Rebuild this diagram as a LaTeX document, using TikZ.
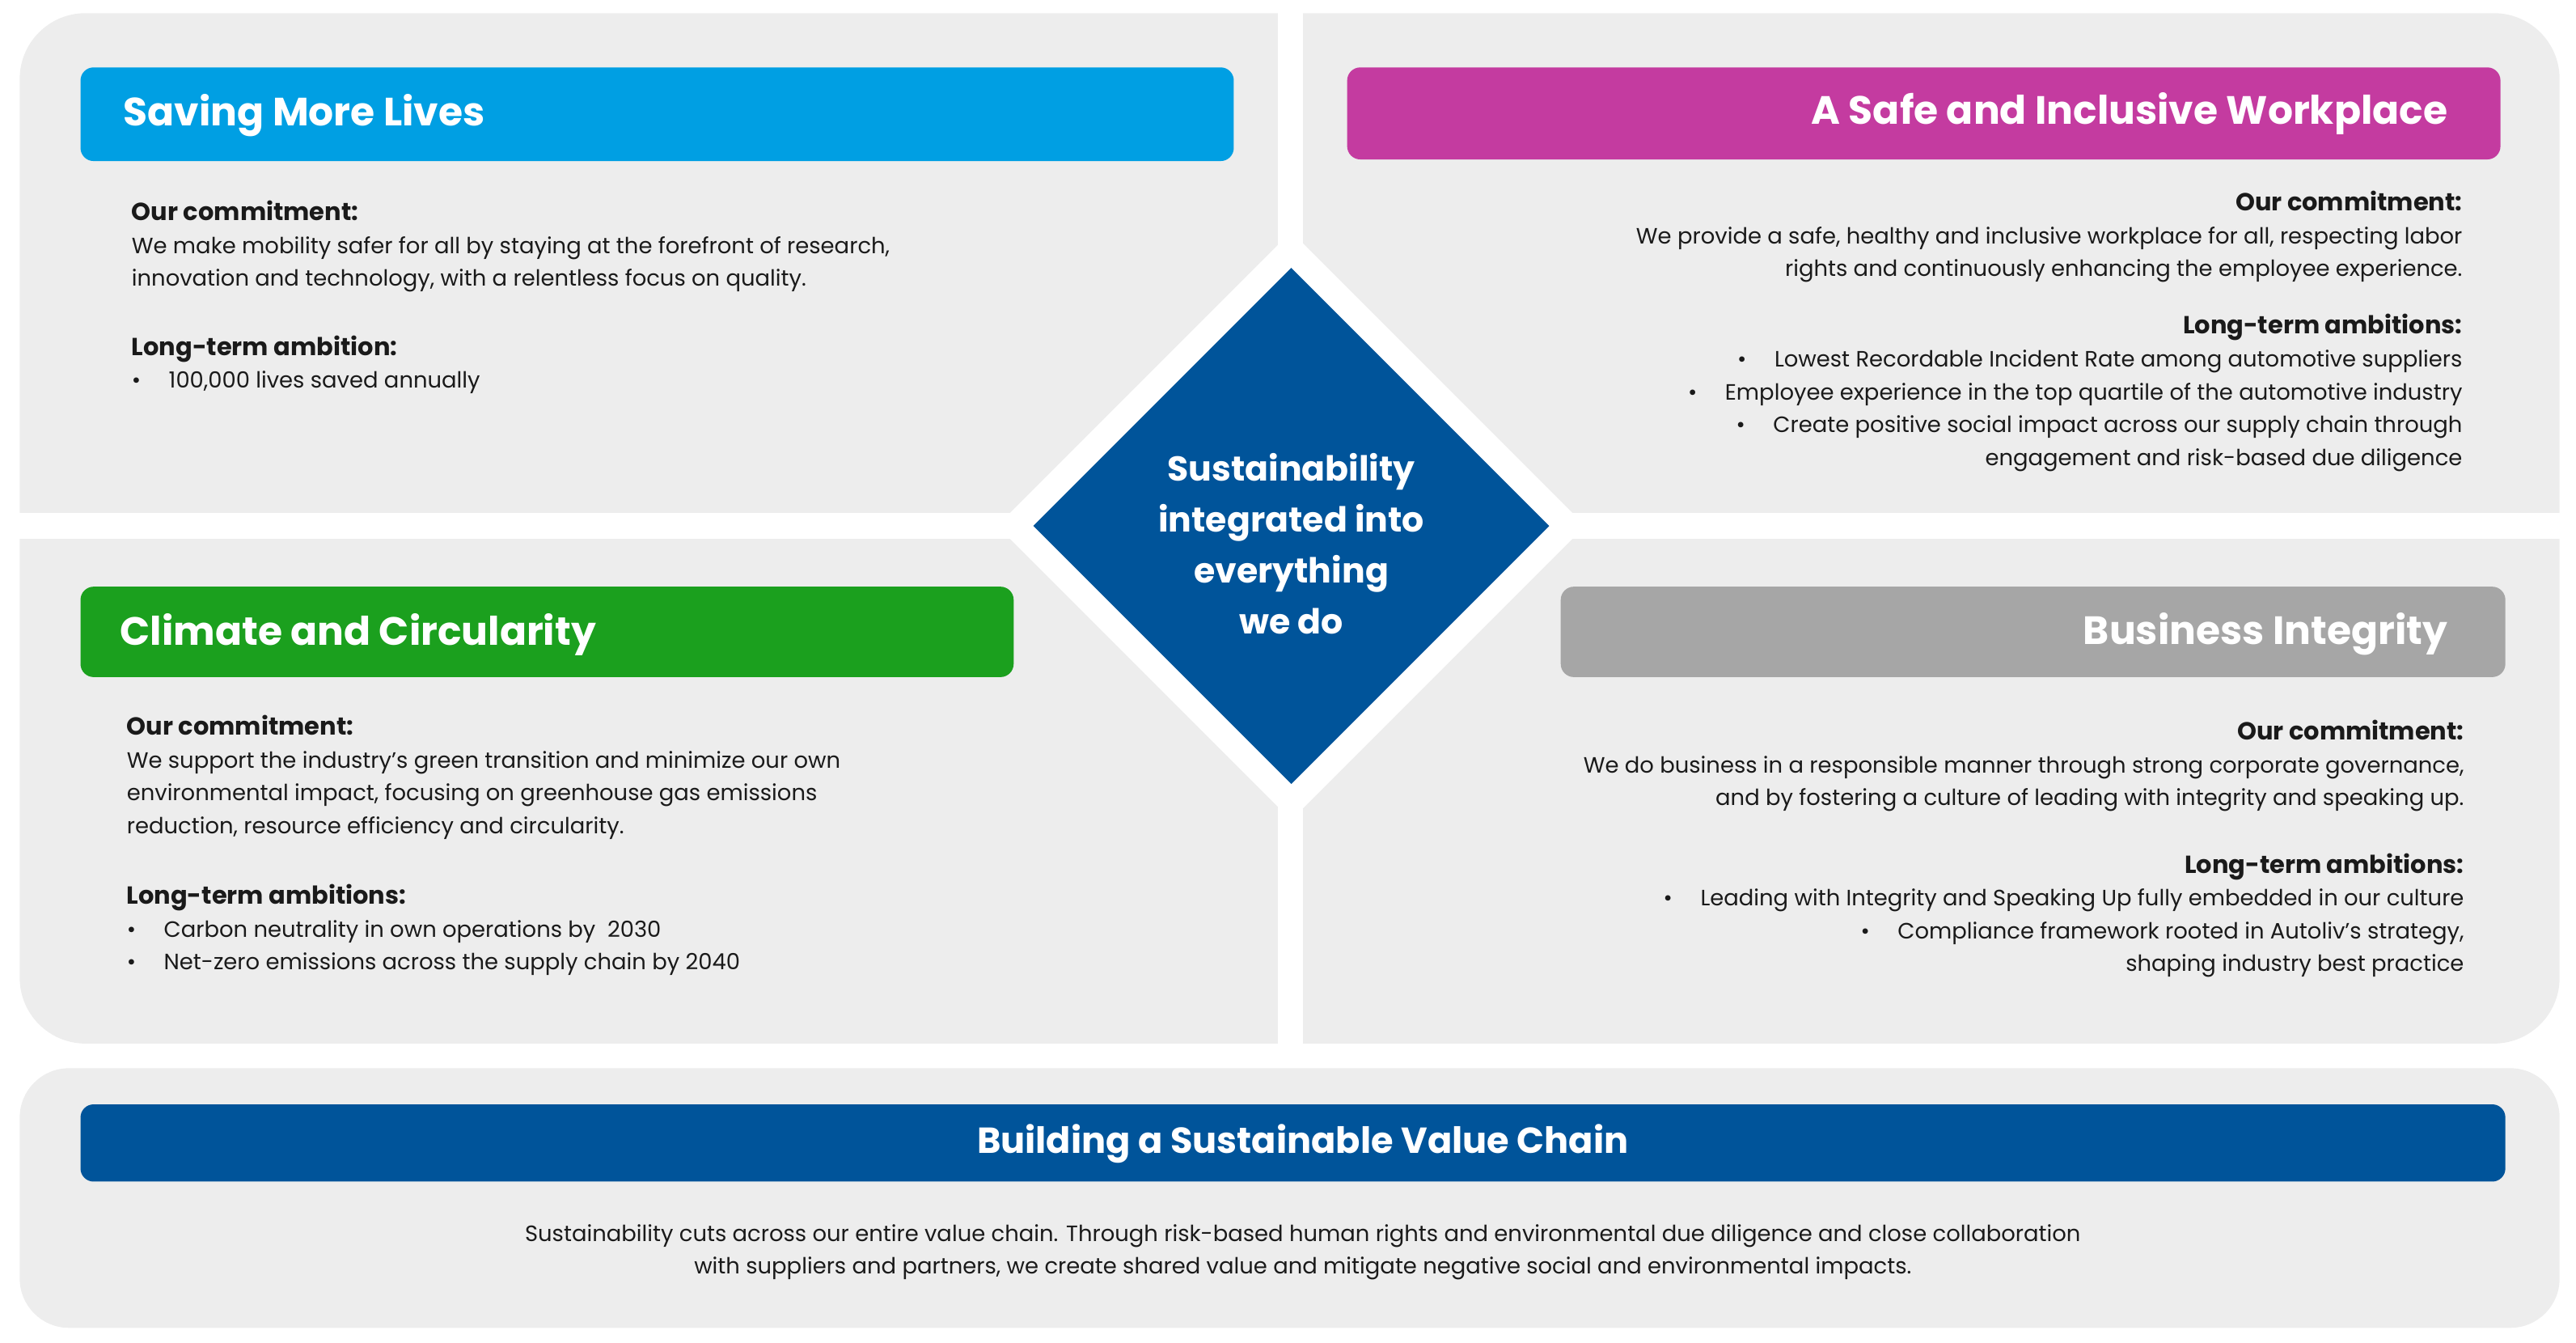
\documentclass[tikz,border=0pt]{standalone}
\usepackage{fontspec}
\setmainfont{Poppins}
\usetikzlibrary{shapes.geometric}
\definecolor{panelgray}{HTML}{EDEDED}
\definecolor{skyblue}{HTML}{009FE3}
\definecolor{magentapink}{HTML}{C43BA0}
\definecolor{leafgreen}{HTML}{1BA01E}
\definecolor{midgray}{HTML}{A6A6A6}
\definecolor{navyblue}{HTML}{00549A}
\definecolor{bodytext}{HTML}{1A1A1A}
\newcommand{\blockhead}[1]{{\fontsize{15}{20}\selectfont\bfseries #1}}

\begin{document}
\begin{tikzpicture}[x=1pt,y=-1pt,
  header/.style={draw=none,rounded corners=8pt},
  title/.style={font=\fontsize{24}{28}\selectfont\bfseries,text=white,inner sep=0pt},
  body/.style={font=\fontsize{13.5}{20}\selectfont,text=bodytext,inner sep=0pt}]

  \useasboundingbox (0,0) rectangle (1568,817);

  % panels
  \fill[panelgray,rounded corners=40pt] (12,8) rectangle (1558,635);
  \fill[white] (778,0) rectangle (793,640);
  \fill[white] (0,312) rectangle (1568,328);
  \fill[panelgray,rounded corners=30pt] (12,650) rectangle (1558,808);

  % centre diamond
  \fill[white] (786,141) -- (965,320) -- (786,499) -- (607,320) -- cycle;
  \fill[navyblue] (786,163) -- (943,320) -- (786,477) -- (629,320) -- cycle;
  \node[title,align=center,font=\fontsize{21}{31}\selectfont\bfseries] (core) at (786,331)
    {Sustainability\\integrated into\\everything\\we do};

  % header bars
  \fill[skyblue,header] (49,41) rectangle (751,98);
  \fill[magentapink,header] (820,41) rectangle (1522,97);
  \fill[leafgreen,header] (49,357) rectangle (617,412);
  \fill[midgray,header] (950,357) rectangle (1525,412);
  \fill[navyblue,header] (49,672) rectangle (1525,719);

  \node[title,anchor=west] (lives) at (75,70) {Saving More Lives};
  \node[title,anchor=east] (workplace) at (1490,69) {A Safe and Inclusive Workplace};
  \node[title,anchor=west] (climate) at (73,386) {Climate and Circularity};
  \node[title,anchor=east] (integrity) at (1490,386) {Business Integrity};
  \node[title,font=\fontsize{22}{26}\selectfont\bfseries] (chain) at (793,696) {Building a Sustainable Value Chain};

  % saving more lives
  \node[body,anchor=north west,align=left] (livesText) at (80,122)
    {\blockhead{Our commitment:}\\
     We make mobility safer for all by staying at the forefront of research,\\
     innovation and technology, with a relentless focus on quality.\\[22pt]
     \blockhead{Long-term ambition:}\\
     \textbullet\hspace{17pt}100,000 lives saved annually};

  % workplace
  \node[body,anchor=north east,align=right] (workText) at (1499,116)
    {\blockhead{Our commitment:}\\
     We provide a safe, healthy and inclusive workplace for all, respecting labor\\
     rights and continuously enhancing the employee experience.\\[15pt]
     \blockhead{Long-term ambitions:}\\
     \textbullet\hspace{17pt}Lowest Recordable Incident Rate among automotive suppliers\\
     \textbullet\hspace{17pt}Employee experience in the top quartile of the automotive industry\\
     \textbullet\hspace{17pt}Create positive social impact across our supply chain through\\
     engagement and risk-based due diligence};

  % climate
  \node[body,anchor=north west,align=left] (climateText) at (77,435)
    {\blockhead{Our commitment:}\\
     We support the industry’s green transition and minimize our own\\
     environmental impact, focusing on greenhouse gas emissions\\
     reduction, resource efficiency and circularity.\\[23pt]
     \blockhead{Long-term ambitions:}\\
     \textbullet\hspace{17pt}Carbon neutrality in own operations by\ \ 2030\\
     \textbullet\hspace{17pt}Net-zero emissions across the supply chain by 2040};

  % integrity
  \node[body,anchor=north east,align=right] (integrityText) at (1500,438)
    {\blockhead{Our commitment:}\\
     We do business in a responsible manner through strong corporate governance,\\
     and by fostering a culture of leading with integrity and speaking up.\\[21pt]
     \blockhead{Long-term ambitions:}\\
     \textbullet\hspace{17pt}Leading with Integrity and Speaking Up fully embedded in our culture\\
     \textbullet\hspace{17pt}Compliance framework rooted in Autoliv’s strategy,\\
     shaping industry best practice};

  % value chain
  \node[body,align=center] (chainText) at (793,762)
    {Sustainability cuts across our entire value chain. Through risk-based human rights and environmental due diligence and close collaboration\\
     with suppliers and partners, we create shared value and mitigate negative social and environmental impacts.};
\end{tikzpicture}
\end{document}
